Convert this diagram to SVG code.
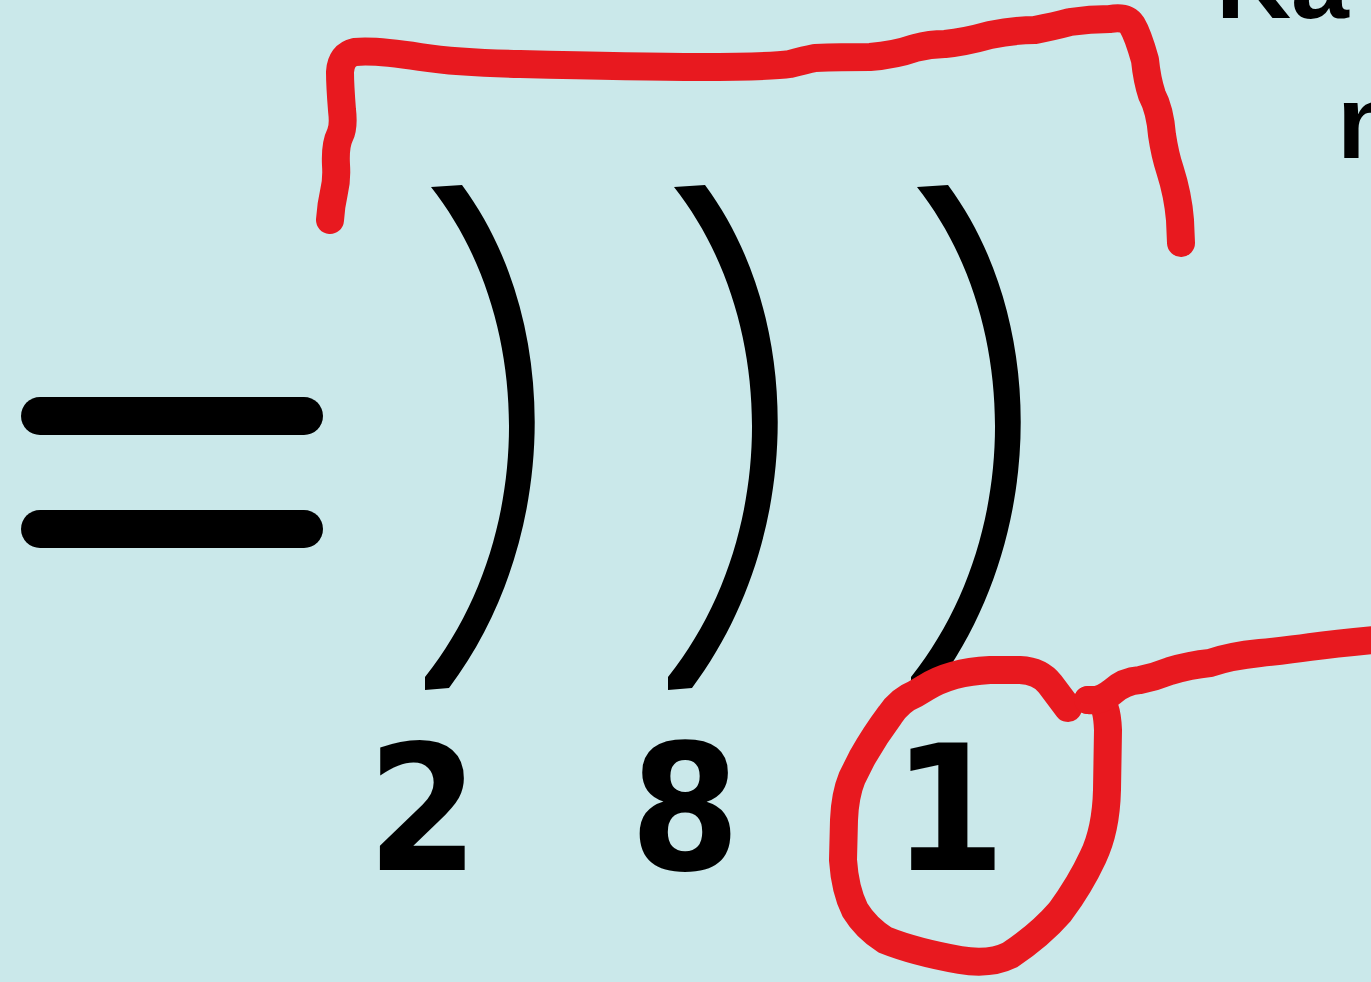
<svg xmlns="http://www.w3.org/2000/svg" width="1371" height="982" viewBox="0 0 1371 982">
<style>
.num{font-family:"DejaVu Sans",sans-serif;font-weight:bold;font-size:174px;fill:#000;text-anchor:middle}
.lbl{font-family:"Liberation Sans",Arial,sans-serif;font-weight:bold;font-size:104px;fill:#000}
.bar{stroke:#000;stroke-width:38;stroke-linecap:round;fill:none}
.arc{fill:#000}
.red{stroke:#e8191f;stroke-width:28;stroke-linecap:round;stroke-linejoin:round;fill:none}
</style>
<defs>
<path id="shell" d="M462,185 C562,320 560,540 449,688 L425,690 L425,677 C536,538 536,320 431,187 Z"/>
</defs>
<rect width="1371" height="982" fill="#cae8ea"/>
<g id="equals">
<line class="bar" x1="40" y1="416" x2="304" y2="416"/>
<line class="bar" x1="40" y1="529" x2="304" y2="529"/>
</g>
<g id="shell1"><use href="#shell" class="arc"/></g>
<g id="shell2"><use href="#shell" class="arc" transform="translate(243,0)"/></g>
<g id="shell3"><use href="#shell" class="arc" transform="translate(486,0)"/></g>
<g id="n2"><text class="num" transform="translate(423,870) scale(0.92,1)">2</text></g>
<g id="n8"><text class="num" transform="translate(685,870) scale(0.91,1)">8</text></g>
<g id="n1"><text class="num" transform="translate(949,870) scale(0.94,1)">1</text></g>
<g id="label">
<text class="lbl" x="1216" y="18">Ka</text>
<text class="lbl" x="1337" y="158">n</text>
</g>
<g id="connectors">
<path class="red" d="M330,220 Q331,205 334,192 Q337,180 336,165 Q335,145 340,135 Q344,127 342,110 Q340,85 340,72 Q341,55 355,52 Q375,50 420,57 Q460,63 520,64 Q640,67 700,67 Q770,67 790,64 Q805,60 815,58 Q840,57 870,57 Q895,55 915,48 Q930,44 945,44 Q965,42 990,35 Q1015,30 1035,30 Q1055,26 1070,22 Q1090,19 1110,19 Q1126,16 1132,25 Q1138,35 1145,60 Q1147,80 1152,95 Q1160,110 1162,135 Q1165,155 1170,170 Q1178,195 1180,220 L1181,243"/>
<path class="red" d="M1068,708 L1050,684 Q1040,671 1020,670 L990,670 Q950,672 925,688 L915,694 Q900,700 890,715 Q875,735 862,758 L852,778 Q845,795 844,820 L843,860 Q845,890 855,910 Q866,928 885,940 Q915,952 960,960 Q990,965 1010,955 Q1040,935 1060,912 Q1080,885 1093,857 Q1106,830 1107,790 L1108,730 Q1107,705 1100,700 L1088,700"/>
<path class="red" d="M1088,700 Q1100,702 1112,692 Q1124,681 1140,680 Q1155,677 1170,671 Q1190,665 1210,663 Q1230,656 1260,653 Q1290,650 1310,647 Q1340,643 1385,639"/>
</g>
</svg>
